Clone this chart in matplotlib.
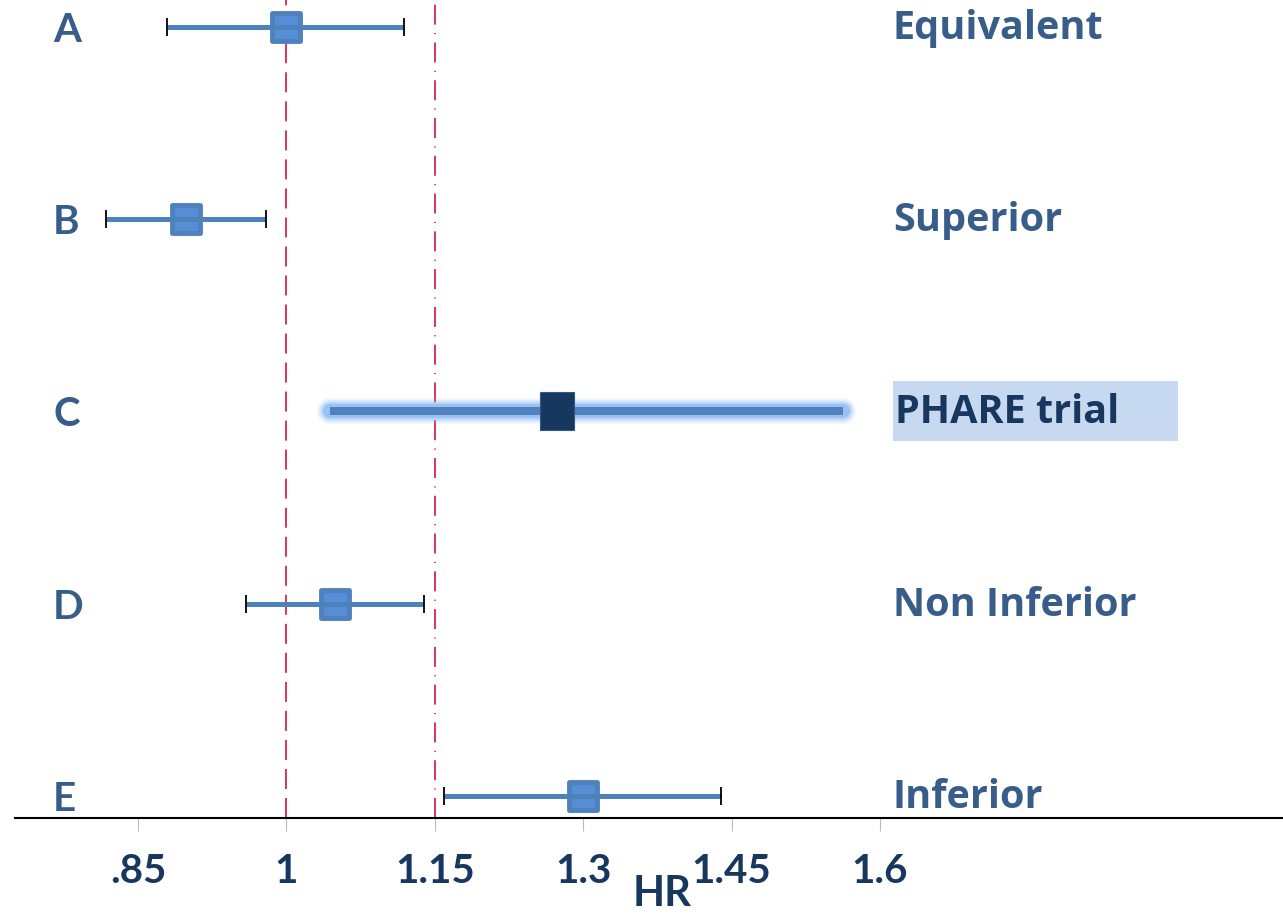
import matplotlib
matplotlib.use("Agg")
import matplotlib.pyplot as plt
from matplotlib.markers import MarkerStyle
from matplotlib.path import Path

plt.rcParams['lines.scale_dashes'] = False

# ---- data ----
rows = ["A", "B", "C", "D", "E"]
outcomes = ["Equivalent", "Superior", "PHARE trial", "Non Inferior", "Inferior"]
hr = [1.00, 0.898, 1.274, 1.049, 1.300]
ci_low = [0.879, 0.818, 1.044, 0.959, 1.159]
ci_high = [1.119, 0.979, 1.563, 1.139, 1.439]
ypos = [5, 4, 3, 2, 1]
ref_lines = [1.0, 1.15]
tick_vals = [0.85, 1.0, 1.15, 1.3, 1.45, 1.6]
tick_labels = [".85", "1", "1.15", "1.3", "1.45", "1.6"]
highlight = "C"

W, H = 1283, 918
fig = plt.figure(figsize=(W / 100, H / 100), dpi=100)
ax = fig.add_axes([15 / W, (H - 818) / H, (W - 15) / W, 818 / H])
ax.set_xlim(0.7255, 2.0076)
ax.set_ylim(0.885, 5.141)
ax.patch.set_alpha(0)

FONT = "Lato"
LFONT = "Open Sans"
blue = "#4F81BD"
fill = "#558ED5"
txt = "#385D8A"
navy = "#17375E"
red = "#CC0033"

LBL_X = (893 - 15) / (W - 15)

# reference lines
ax.axvline(ref_lines[0], color=red, lw=1.1, linestyle=(0, (14.4, 6.5)), zorder=1)
ax.axvline(ref_lines[1], color=red, lw=1.1,
           linestyle=(0, (14.4, 6.0, 0.8, 6.0)), zorder=1)


def label(x, y, s, color, size, family, dy):
    ax.annotate(s, xy=(x, y), xycoords=("axes fraction", "data"),
                xytext=(0, -dy), textcoords="offset pixels",
                fontsize=size, fontweight="bold", color=color, family=family,
                va="baseline", ha="left", zorder=5)


for r, o, m, lo, hi, y in zip(rows, outcomes, hr, ci_low, ci_high, ypos):
    if r == highlight:
        # glow
        for lw, a in [(26, 0.12), (22, 0.2), (18, 0.32), (14, 0.55)]:
            ax.plot([lo, hi], [y, y], color="#7DB3F2", lw=lw * 0.72, alpha=a,
                    solid_capstyle="round", zorder=2)
        ax.plot([lo, hi], [y, y], color=blue, lw=8 * 0.72,
                solid_capstyle="butt", zorder=3)
        rect = Path([(-0.87, -1), (0.87, -1), (0.87, 1), (-0.87, 1), (-0.87, -1)],
                    [Path.MOVETO, Path.LINETO, Path.LINETO, Path.LINETO, Path.CLOSEPOLY])
        ax.plot([m], [y], marker=rect, markersize=28, color=navy,
                markeredgecolor="#2E5A8F", markeredgewidth=0.8, zorder=4)
        label(LBL_X + 2 / (W - 15), y, o, navy, 28.5, LFONT, 12)
        # background box for label
        ax.axhspan(y - 29 / 192, y + 30 / 192, xmin=(893 - 15) / (W - 15),
                   xmax=(1178 - 15) / (W - 15), color="#C6D9F1", zorder=0, lw=0)
    else:
        ms = MarkerStyle("s", joinstyle="round")
        ax.plot([m], [y], marker=ms, markersize=20, color=fill,
                markeredgecolor=blue, markeredgewidth=3.5, zorder=3)
        ax.plot([lo, hi], [y, y], color=blue, lw=5 * 0.72,
                solid_capstyle="butt", zorder=4)
        ax.plot([lo, hi], [y, y], linestyle="none", marker="|", markersize=13,
                markeredgewidth=1.3, color="black", zorder=5)
        label(LBL_X, y, o, txt, 28.5, LFONT, 12)
    label(0.03, y, r, txt, 29, FONT, 15)

# axes
for s in ["top", "left", "right"]:
    ax.spines[s].set_visible(False)
ax.spines["bottom"].set_linewidth(1.5)
ax.spines["bottom"].set_color("black")
ax.set_yticks([])
ax.set_xticks(tick_vals)
ax.set_xticklabels(tick_labels)
ax.tick_params(axis="x", length=9, width=0.8, color="#BBBBBB", pad=16,
               labelsize=29, labelcolor=navy)
for lab in ax.get_xticklabels():
    lab.set_fontweight("bold")
    lab.set_family(FONT)
ax.set_xlabel("HR", fontsize=30, fontweight="bold", color=navy, family=FONT)
ax.xaxis.set_label_coords((662 - 15) / (W - 15), -0.07)
ax.xaxis.label.set_va("top")

fig.savefig("out.png", dpi=100)
